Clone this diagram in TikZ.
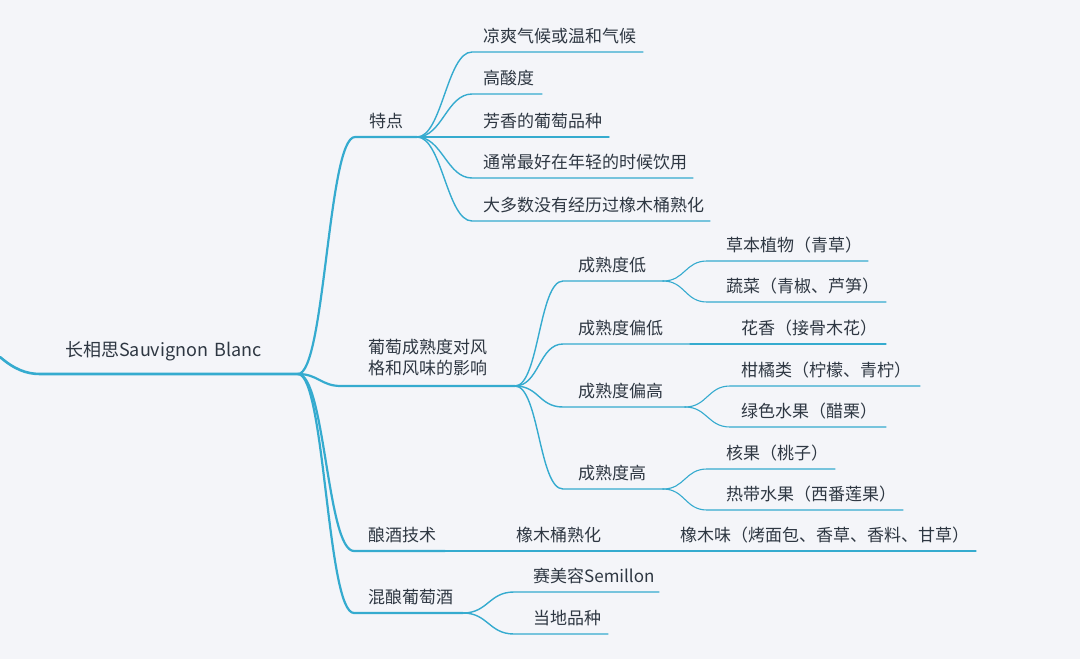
\documentclass[tikz,border=0pt]{standalone}
\usepackage{fontspec}
\newfontfamily\cjk{Noto Sans CJK SC}
\definecolor{bg}{HTML}{F4F5F9}
\definecolor{ln}{HTML}{35ABCF}
\definecolor{tx}{HTML}{2E3742}
\tikzset{
  l0/.style={draw=ln, line width=2.6pt, line cap=round, line join=round},
  l1/.style={draw=ln, line width=2.2pt, line cap=round, line join=round},
  l2/.style={draw=ln, line width=1.4pt, line cap=round, line join=round},
  l3/.style={draw=ln, line width=1.1pt, line cap=round, line join=round},
  lab/.style={anchor=base west, inner sep=0pt, text=tx, font=\cjk\fontsize{17}{21}\selectfont},
}
\begin{document}
\begin{tikzpicture}[x=1pt,y=-1pt]
\fill[bg] (0,0) rectangle (1080,659);
\useasboundingbox (0,0) rectangle (1080,659);
% root
\coordinate (rin) at (0,357);
\coordinate (r0) at (40,374);
\coordinate (rF) at (298,374);
\node[lab, font=\cjk\fontsize{18}{22}\selectfont] (root) at (65,356) {长相思Sauvignon\,\,Blanc};
\draw[l0] (rin) .. controls +(14,12) and +(-14,0) .. (r0) -- (rF);
% 特点
\coordinate (aS) at (355,137); \coordinate (aF) at (417,137);
\node[lab] (a) at (369,127.5) {特点};
\draw[l1] (rF) .. controls +(27,0) and +(-27,0) .. (aS) -- (aF);
\foreach \n/\y/\e/\t in {1/52/643/凉爽气候或温和气候, 2/94/542/高酸度, 3/137/609/芳香的葡萄品种, 4/178/693/通常最好在年轻的时候饮用, 5/221/710/大多数没有经历过橡木桶熟化}{
  \coordinate (ta\n s) at (472,\y); \coordinate (ta\n e) at (\e,\y);
  \node[lab] (ta\n) at (483,\y-9.5) {\t};
  \draw[l2] (aF) .. controls +(25,0) and +(-25,0) .. (ta\n s) -- (ta\n e);
}
% 葡萄成熟度
\coordinate (bS) at (341,386); \coordinate (bF) at (515,386);
\node[lab, align=left, anchor=north west] (b) at (368,339) {葡萄成熟度对风\\格和风味的影响};
\draw[l1] (rF) .. controls +(20,0) and +(-20,0) .. (bS) -- (bF);
\foreach \n/\y/\e/\t in {1/281/663/成熟度低, 2/344/690/成熟度偏低, 3/407/685/成熟度偏高, 4/489/663/成熟度高}{
  \coordinate (tb\n s) at (563,\y); \coordinate (tb\n e) at (\e,\y);
  \node[lab] (tb\n) at (578,\y-9.5) {\t};
  \draw[l2] (bF) .. controls +(24,0) and +(-24,0) .. (tb\n s) -- (tb\n e);
}
% level 3
\foreach \p/\n/\sx/\y/\e/\tx/\t in {
  tb1/tc1/707/261/868/726/草本植物（青草）,
  tb1/tc2/707/302/886/726/蔬菜（青椒、芦笋）,
  tb3/tc4/730/386/920/741/柑橘类（柠檬、青柠）,
  tb3/tc5/730/427/886/741/绿色水果（醋栗）,
  tb4/tc6/707/469/835/726/核果（桃子）,
  tb4/tc7/707/510/903/726/热带水果（西番莲果）}{
  \coordinate (\n s) at (\sx,\y); \coordinate (\n e) at (\e,\y);
  \node[lab] (\n) at (\tx,\y-9.5) {\t};
  \draw[l3] (\p e) .. controls +(22,0) and +(-22,0) .. (\n s) -- (\n e);
}
\coordinate (tc3e) at (886,344);
\node[lab] (tc3) at (741,334.5) {花香（接骨木花）};
\draw[l3] (tb2e) -- (tc3e);
% 酿酒技术
\coordinate (dS) at (354,551); \coordinate (dF) at (445,551);
\node[lab] (d) at (368,541.5) {酿酒技术};
\draw[l1] (rF) .. controls +(27,0) and +(-27,0) .. (dS) -- (dF);
\coordinate (td2e) at (655,551);
\node[lab] (td2) at (516,541.5) {橡木桶熟化};
\draw[l2] (dF) -- (td2e);
\coordinate (td3e) at (976,551);
\node[lab] (td3) at (680,541.5) {橡木味（烤面包、香草、香料、甘草）};
\draw[l3] (td2e) -- (td3e);
% 混酿葡萄酒
\coordinate (eS) at (354,613); \coordinate (eF) at (463,613);
\node[lab] (e) at (368,603.5) {混酿葡萄酒};
\draw[l1] (rF) .. controls +(27,0) and +(-27,0) .. (eS) -- (eF);
\coordinate (te1s) at (514,592); \coordinate (te1e) at (659,592);
\node[lab] (te1) at (533,582.5) {赛美容Semillon};
\draw[l2] (eF) .. controls +(25,0) and +(-25,0) .. (te1s) -- (te1e);
\coordinate (te2s) at (514,634); \coordinate (te2e) at (608,634);
\node[lab] (te2) at (533,624.5) {当地品种};
\draw[l2] (eF) .. controls +(25,0) and +(-25,0) .. (te2s) -- (te2e);
\end{tikzpicture}
\end{document}
